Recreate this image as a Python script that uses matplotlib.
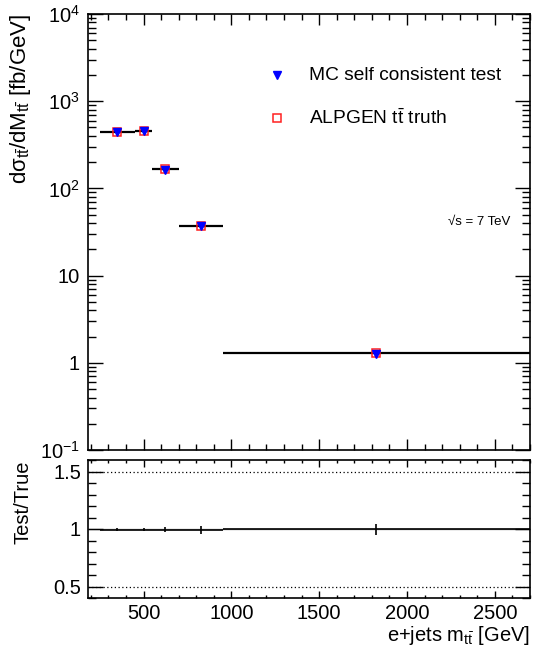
import numpy as np
import matplotlib
matplotlib.use("Agg")
import matplotlib.pyplot as plt
from matplotlib.ticker import MultipleLocator, FixedLocator, FixedFormatter, LogLocator, NullFormatter

plt.rcParams['font.family'] = ['Liberation Sans', 'DejaVu Sans']
plt.rcParams['mathtext.fontset'] = 'custom'
plt.rcParams['mathtext.rm'] = 'Liberation Sans'
plt.rcParams['mathtext.it'] = 'Liberation Sans'
plt.rcParams['mathtext.bf'] = 'Liberation Sans:bold'

# m_ttbar binning [GeV]
bin_edges = [250, 450, 550, 700, 950, 2700]
# differential cross sections [fb/GeV]
truth_xsec = [445.0, 455.0, 165.0, 37.5, 1.28]
test_xsec = [443.0, 453.0, 164.0, 37.3, 1.275]
test_err = [5.0, 5.0, 3.0, 1.0, 0.05]
ratio_err = [0.012, 0.012, 0.02, 0.035, 0.047]

edges = np.array(bin_edges, dtype=float)
centers = 0.5 * (edges[:-1] + edges[1:])
half_w = 0.5 * (edges[1:] - edges[:-1])
truth = np.array(truth_xsec)
test = np.array(test_xsec)
ratio = test / truth

fig = plt.figure(figsize=(5.34, 6.62), dpi=100)
W, H = 534.0, 662.0
ax = fig.add_axes([88 / W, 1 - 450 / H, 442 / W, 436 / H])
axr = fig.add_axes([88 / W, 1 - 598 / H, 442 / W, 138 / H])

xlim = (184, 2700)
FS = 14.5

# upper panel
ax.set_yscale('log')
ax.errorbar(centers, truth, xerr=half_w, fmt='none', ecolor='black', elinewidth=1.6, capsize=0)
ax.plot(centers, truth, ls='none', marker='s', ms=6.2, mfc='none', mec='#ff2020', mew=1.1)
ax.errorbar(centers, test, yerr=test_err, fmt='v', color='#0000ff', ms=5.2, ecolor='#0000ff',
            elinewidth=1.0, capsize=0)
ax.set_xlim(*xlim)
ax.set_ylim(0.1, 1e4)

ax.yaxis.set_major_locator(FixedLocator([0.1, 1, 10, 100, 1000, 10000]))
ax.yaxis.set_major_formatter(FixedFormatter([r'$10^{-1}$', '1', '10', r'$10^{2}$', r'$10^{3}$', r'$10^{4}$']))
ax.yaxis.set_minor_locator(LogLocator(base=10, subs=np.arange(2, 10), numticks=20))
ax.yaxis.set_minor_formatter(NullFormatter())
ax.xaxis.set_major_locator(MultipleLocator(500))
ax.xaxis.set_minor_locator(MultipleLocator(100))
ax.tick_params(axis='both', which='both', direction='in', top=True, right=True, labelbottom=False)
ax.tick_params(axis='y', which='major', length=11, width=1.0, labelsize=FS, pad=6)
ax.tick_params(axis='y', which='minor', length=5.5, width=1.0)
ax.tick_params(axis='x', which='major', length=8, width=1.0)
ax.tick_params(axis='x', which='minor', length=4, width=1.0)
for s in ax.spines.values():
    s.set_linewidth(1.2)

ax.set_ylabel(r'd$\sigma_{t\bar{t}}$/dM$_{t\bar{t}}$ [fb/GeV]', fontsize=16, loc='top')
ax.yaxis.set_label_coords(-0.125, 1.0)

# legend
ax.plot([0.4276], [0.860], transform=ax.transAxes, marker='v', color='#0000ff', ms=5.2, ls='none')
ax.plot([0.4276], [0.761], transform=ax.transAxes, marker='s', ms=6.2, mfc='none', mec='#ff2020',
        mew=1.1, ls='none')
ax.text(0.5, 0.860, 'MC self consistent test', transform=ax.transAxes, fontsize=13.8, va='center')
ax.text(0.5, 0.761, r'ALPGEN t$\bar{\mathrm{t}}$ truth', transform=ax.transAxes, fontsize=13.8, va='center')
ax.text(0.815, 0.523, '\u221as = 7 TeV', transform=ax.transAxes, fontsize=9.5, va='center')

# ratio panel
axr.axhline(1.0, color='#999999', lw=1.0, zorder=1)
axr.axhline(1.5, color='black', lw=0.9, ls=(0, (1, 2)), zorder=1)
axr.axhline(0.5, color='black', lw=0.9, ls=(0, (1, 2)), zorder=1)
axr.errorbar(centers, ratio, xerr=half_w, yerr=ratio_err, fmt='none', ecolor='black',
             elinewidth=1.2, capsize=0, zorder=2)
axr.set_xlim(*xlim)
axr.set_ylim(0.4, 1.6)
axr.yaxis.set_major_locator(FixedLocator([0.5, 1.0, 1.5]))
axr.yaxis.set_major_formatter(FixedFormatter(['0.5', '1', '1.5']))
axr.yaxis.set_minor_locator(MultipleLocator(0.1))
axr.xaxis.set_major_locator(MultipleLocator(500))
axr.xaxis.set_minor_locator(MultipleLocator(100))
axr.tick_params(axis='both', which='both', direction='in', top=True, right=True)
axr.tick_params(axis='y', which='major', length=11, width=1.0, labelsize=FS, pad=5)
axr.tick_params(axis='y', which='minor', length=5.5, width=1.0)
axr.tick_params(axis='x', which='major', length=5, width=1.0, labelsize=FS, pad=4)
axr.tick_params(axis='x', which='minor', length=2.5, width=1.0)
for s in axr.spines.values():
    s.set_linewidth(1.2)

axr.set_ylabel('Test/True', fontsize=FS, loc='top')
axr.yaxis.set_label_coords(-0.125, 1.0)
axr.set_xlabel(r'e+jets m$_{t\bar{t}}$ [GeV]', fontsize=FS, loc='right', labelpad=1)

fig.savefig('out.png', dpi=100)
